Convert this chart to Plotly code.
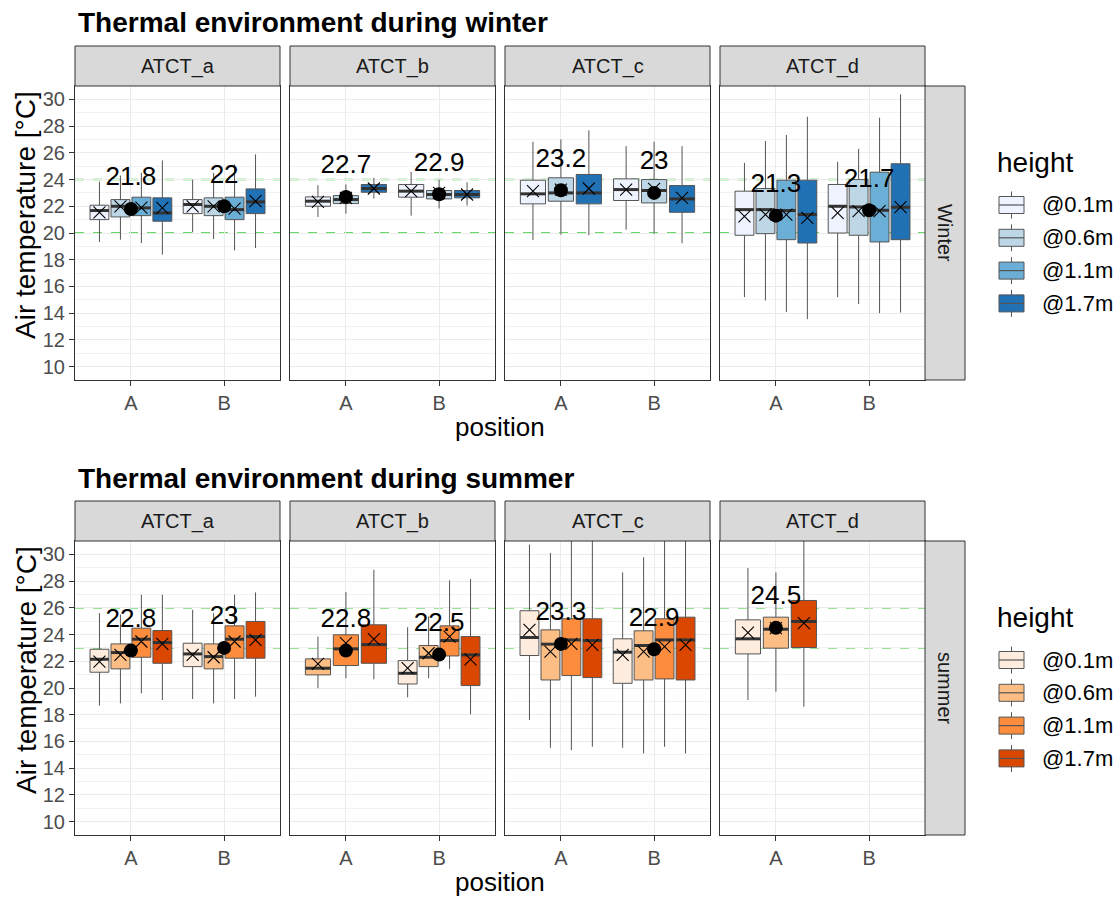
import plotly.graph_objects as go

# ---------------- data ----------------
FACETS = ["ATCT_a", "ATCT_b", "ATCT_c", "ATCT_d"]
POSITIONS = ["A", "B"]
HEIGHTS = ["@0.1m", "@0.6m", "@1.1m", "@1.7m"]
Y_TICKS = [10, 12, 14, 16, 18, 20, 22, 24, 26, 28, 30]

BLUES = ["#EFF3FF", "#BDD7E7", "#6BAED6", "#2171B5"]
ORANGES = ["#FEEDDE", "#FDBE85", "#FD8D3C", "#D94701"]

# winter boxes
w_facet = ["ATCT_a"] * 8 + ["ATCT_b"] * 6 + ["ATCT_c"] * 6 + ["ATCT_d"] * 8
w_pos = ["A", "A", "A", "A", "B", "B", "B", "B",
         "A", "A", "A", "B", "B", "B",
         "A", "A", "A", "B", "B", "B",
         "A", "A", "A", "A", "B", "B", "B", "B"]
w_height = ["@0.1m", "@0.6m", "@1.1m", "@1.7m", "@0.1m", "@0.6m", "@1.1m", "@1.7m",
            "@0.1m", "@0.6m", "@1.7m", "@0.1m", "@0.6m", "@1.7m",
            "@0.1m", "@0.6m", "@1.7m", "@0.1m", "@0.6m", "@1.7m",
            "@0.1m", "@0.6m", "@1.1m", "@1.7m", "@0.1m", "@0.6m", "@1.1m", "@1.7m"]
w_low = [19.33, 19.5, 19.25, 18.38, 20.05, 19.55, 18.7, 18.88,
         21.2, 21.45, 22.58, 21.3, 21.83, 22.05,
         19.48, 19.88, 19.83, 20.25, 19.93, 19.23,
         15.2, 14.95, 14.08, 13.55, 15.2, 14.68, 14.0, 14.05]
w_q1 = [21.0, 21.2, 21.3, 20.88, 21.45, 21.3, 21.0, 21.45,
        22.0, 22.2, 23.05, 22.68, 22.55, 22.63,
        22.18, 22.38, 22.18, 22.43, 22.25, 21.55,
        19.83, 19.95, 19.5, 19.25, 20.0, 19.83, 19.33, 19.5]
w_med = [21.68, 22.0, 21.88, 21.5, 22.13, 22.0, 21.75, 22.33,
         22.38, 22.5, 23.33, 23.13, 22.88, 22.88,
         22.93, 23.0, 23.0, 23.25, 23.18, 22.55,
         21.75, 21.75, 21.68, 21.38, 22.0, 21.95, 21.7, 21.93]
w_q3 = [22.08, 22.5, 22.68, 22.63, 22.5, 22.63, 22.68, 23.3,
        22.7, 22.8, 23.63, 23.63, 23.18, 23.18,
        23.95, 24.13, 24.38, 24.05, 24.0, 23.55,
        23.13, 23.33, 23.95, 23.95, 23.63, 24.0, 24.55, 25.18]
w_high = [23.83, 24.3, 24.5, 25.43, 24.0, 24.5, 25.13, 25.88,
          23.58, 23.63, 24.13, 24.58, 24.0, 23.8,
          26.83, 27.0, 27.68, 26.5, 26.83, 26.5,
          25.25, 26.88, 27.33, 28.7, 25.33, 26.3, 28.63, 30.38]
w_mean = [21.55, 22.0, 21.9, 21.88, 22.0, 22.0, 21.83, 22.38,
          22.33, 22.63, 23.33, 23.13, 23.0, 22.88,
          23.13, 23.25, 23.33, 23.25, 23.3, 22.63,
          21.25, 21.38, 21.38, 21.13, 21.5, 21.63, 21.63, 21.93]
# winter position means (labels)
w_pm_facet = ["ATCT_a", "ATCT_a", "ATCT_b", "ATCT_b", "ATCT_c", "ATCT_c", "ATCT_d", "ATCT_d"]
w_pm_pos = ["A", "B", "A", "B", "A", "B", "A", "B"]
w_pm_val = [21.8, 22, 22.7, 22.9, 23.2, 23, 21.3, 21.7]
w_limits = [20, 24]

# summer boxes
s_facet = ["ATCT_a"] * 8 + ["ATCT_b"] * 7 + ["ATCT_c"] * 8 + ["ATCT_d"] * 3
s_pos = ["A", "A", "A", "A", "B", "B", "B", "B",
         "A", "A", "A", "B", "B", "B", "B",
         "A", "A", "A", "A", "B", "B", "B", "B",
         "A", "A", "A"]
s_height = ["@0.1m", "@0.6m", "@1.1m", "@1.7m", "@0.1m", "@0.6m", "@1.1m", "@1.7m",
            "@0.6m", "@1.1m", "@1.7m", "@0.1m", "@0.6m", "@1.1m", "@1.7m",
            "@0.1m", "@0.6m", "@1.1m", "@1.7m", "@0.1m", "@0.6m", "@1.1m", "@1.7m",
            "@0.1m", "@0.6m", "@1.7m"]
s_low = [18.68, 18.85, 19.6, 19.1, 19.18, 18.85, 19.18, 19.35,
         19.98, 20.73, 20.65, 19.3, 20.73, 21.43, 18.03,
         17.6, 15.53, 15.35, 15.6, 15.53, 15.1, 15.6, 15.1,
         19.1, 19.73, 18.6]
s_q1 = [21.18, 21.43, 22.3, 21.85, 21.6, 21.43, 22.23, 22.23,
        20.98, 21.68, 21.85, 20.3, 21.6, 22.4, 20.18,
        22.43, 20.6, 20.93, 20.78, 20.35, 20.6, 20.68, 20.6,
        22.55, 22.98, 23.03]
s_med = [22.15, 22.65, 23.65, 23.4, 22.55, 22.35, 23.65, 23.85,
         21.48, 22.93, 23.25, 21.1, 22.3, 23.55, 22.48,
         23.78, 23.28, 23.6, 23.55, 22.68, 23.18, 23.6, 23.6,
         23.68, 24.4, 24.98]
s_q3 = [22.9, 23.3, 24.48, 24.3, 23.35, 23.3, 24.65, 24.98,
        22.18, 23.98, 24.73, 22.05, 23.18, 24.65, 23.85,
        25.78, 24.35, 25.18, 25.18, 23.68, 24.28, 25.18, 25.3,
        25.1, 25.3, 26.55]
s_high = [25.6, 25.5, 26.98, 26.98, 25.85, 25.6, 26.98, 27.15,
          23.85, 27.18, 28.85, 24.55, 25.35, 28.05, 28.15,
          30.73, 30.1, 31.6, 31.6, 28.65, 29.78, 31.6, 31.6,
          28.98, 28.65, 31.6]
s_mean = [21.98, 22.48, 23.48, 23.3, 22.48, 22.3, 23.48, 23.6,
          21.8, 23.35, 23.65, 21.48, 22.6, 23.85, 22.15,
          24.35, 22.73, 23.3, 23.23, 22.48, 22.73, 23.1, 23.23,
          24.15, 24.48, 24.85]
s_pm_facet = ["ATCT_a", "ATCT_a", "ATCT_b", "ATCT_b", "ATCT_c", "ATCT_c", "ATCT_d"]
s_pm_pos = ["A", "B", "A", "B", "A", "B", "A"]
s_pm_val = [22.8, 23, 22.8, 22.5, 23.3, 22.9, 24.5]
s_limits = [23, 26]

# ---------------- layout geometry (screen pixels) ----------------
W, H = 1120, 898
FONT = "Liberation Sans, Arial, sans-serif"
PANEL_X = [(75, 280), (290, 495), (505, 710), (720, 925)]
ROW_Y = [(86, 380), (541, 835)]
STRIP_H = 40
RSTRIP = (925, 965)
DODGE = 0.9
LABEL_NUDGE = 2.25
BOX_LINE = "#555555"
DARK = "#333333"


def px(x):
    return x / W


def py(y):
    return 1 - y / H


seasons = [
    dict(name="winter", strip="Winter", pal=BLUES, facet=w_facet, pos=w_pos, height=w_height,
         low=w_low, q1=w_q1, med=w_med, q3=w_q3, high=w_high, mean=w_mean,
         pmf=w_pm_facet, pmp=w_pm_pos, pmv=w_pm_val, limits=w_limits),
    dict(name="summer", strip="summer", pal=ORANGES, facet=s_facet, pos=s_pos, height=s_height,
         low=s_low, q1=s_q1, med=s_med, q3=s_q3, high=s_high, mean=s_mean,
         pmf=s_pm_facet, pmp=s_pm_pos, pmv=s_pm_val, limits=s_limits),
]

fig = go.Figure()
shapes = []
annotations = []
layout_axes = {}

for r, S in enumerate(seasons):
    y0p, y1p = ROW_Y[r]
    for c, fac in enumerate(FACETS):
        idx = r * 4 + c + 1
        xid = "x" if idx == 1 else f"x{idx}"
        yid = "y" if idx == 1 else f"y{idx}"
        x0p, x1p = PANEL_X[c]
        layout_axes["xaxis" if idx == 1 else f"xaxis{idx}"] = dict(
            domain=[px(x0p), px(x1p)], anchor=yid, range=[0.4, 2.6],
            tickmode="array", tickvals=[1, 2], ticktext=POSITIONS,
            showgrid=True, gridcolor="#EBEBEB", gridwidth=1, zeroline=False,
            showline=True, linecolor=DARK, linewidth=1, mirror=True,
            ticks="outside", ticklen=5, tickcolor=DARK, tickwidth=1,
            tickfont=dict(size=20, color="#4D4D4D", family=FONT), fixedrange=True)
        layout_axes["yaxis" if idx == 1 else f"yaxis{idx}"] = dict(
            domain=[py(y1p), py(y0p)], anchor=xid, range=[9, 31],
            tickmode="linear", tick0=Y_TICKS[0], dtick=Y_TICKS[1] - Y_TICKS[0],
            showticklabels=(c == 0), ticks="outside" if c == 0 else "",
            ticklen=5, tickcolor=DARK, tickwidth=1,
            tickfont=dict(size=20, color="#4D4D4D", family=FONT),
            showgrid=True, gridcolor="#EBEBEB", gridwidth=1, zeroline=False,
            minor=dict(dtick=1, showgrid=True, gridcolor="#F2F2F2", gridwidth=0.7),
            showline=True, linecolor=DARK, linewidth=1, mirror=True, fixedrange=True)

        # reference lines
        for lim in S["limits"]:
            shapes.append(dict(type="line", xref="paper", yref=yid,
                               x0=px(x0p), x1=px(x1p), y0=lim, y1=lim, layer="below",
                               line=dict(color="#33CC33", width=1.4, dash="dash")))

        # boxes
        med_x, med_y, mx, my = [], [], [], []
        for p_i, pos in enumerate(POSITIONS):
            rows = [k for k in range(len(S["facet"]))
                    if S["facet"][k] == fac and S["pos"][k] == pos]
            rows.sort(key=lambda k: HEIGHTS.index(S["height"][k]))
            n = len(rows)
            for j, k in enumerate(rows):
                slot = DODGE / n
                xc = (p_i + 1) + (j - (n - 1) / 2) * slot
                bw = slot * 0.9
                col = S["pal"][HEIGHTS.index(S["height"][k])]
                fig.add_trace(go.Box(
                    x=[xc], q1=[S["q1"][k]], median=[S["med"][k]], q3=[S["q3"][k]],
                    lowerfence=[S["low"][k]], upperfence=[S["high"][k]],
                    width=bw, fillcolor=col, whiskerwidth=0, boxpoints=False,
                    line=dict(color=BOX_LINE, width=1), xaxis=xid, yaxis=yid,
                    showlegend=False, hoverinfo="skip"))
                med_x += [xc - bw / 2, xc + bw / 2, None]
                med_y += [S["med"][k], S["med"][k], None]
                mx.append(xc)
                my.append(S["mean"][k])
        fig.add_trace(go.Scatter(x=med_x, y=med_y, mode="lines", xaxis=xid, yaxis=yid,
                                 line=dict(color=DARK, width=3), showlegend=False,
                                 hoverinfo="skip"))
        fig.add_trace(go.Scatter(x=mx, y=my, mode="markers", xaxis=xid, yaxis=yid,
                                 marker=dict(symbol="x-thin", size=12,
                                             line=dict(color="black", width=1.1)),
                                 showlegend=False, hoverinfo="skip"))
        # position means
        pm = [(POSITIONS.index(S["pmp"][k]) + 1, S["pmv"][k])
              for k in range(len(S["pmf"])) if S["pmf"][k] == fac]
        if pm:
            fig.add_trace(go.Scatter(x=[a for a, _ in pm], y=[b for _, b in pm],
                                     mode="markers", xaxis=xid, yaxis=yid,
                                     marker=dict(symbol="circle", size=14, color="black"),
                                     showlegend=False, hoverinfo="skip"))
            fig.add_trace(go.Scatter(x=[a for a, _ in pm], y=[b + LABEL_NUDGE for _, b in pm],
                                     mode="text", text=[f"{b:g}" for _, b in pm],
                                     textposition="middle center", cliponaxis=False,
                                     textfont=dict(size=26, color="black", family=FONT),
                                     xaxis=xid, yaxis=yid, showlegend=False, hoverinfo="skip"))

        # top strip
        shapes.append(dict(type="rect", xref="paper", yref="paper",
                           x0=px(x0p), x1=px(x1p), y0=py(y0p), y1=py(y0p - STRIP_H),
                           fillcolor="#D9D9D9", line=dict(color=DARK, width=1), layer="above"))
        annotations.append(dict(xref="paper", yref="paper", x=px((x0p + x1p) / 2),
                                y=py(y0p - STRIP_H / 2), text=fac, showarrow=False,
                                xanchor="center", yanchor="middle",
                                font=dict(size=20, color="#1A1A1A", family=FONT)))

    # right strip
    shapes.append(dict(type="rect", xref="paper", yref="paper",
                       x0=px(RSTRIP[0]), x1=px(RSTRIP[1]), y0=py(y1p), y1=py(y0p),
                       fillcolor="#D9D9D9", line=dict(color=DARK, width=1), layer="above"))
    annotations.append(dict(xref="paper", yref="paper", x=px((RSTRIP[0] + RSTRIP[1]) / 2),
                            y=py((y0p + y1p) / 2), text=S["strip"], textangle=90,
                            showarrow=False, xanchor="center", yanchor="middle",
                            font=dict(size=20, color="#1A1A1A", family=FONT)))
    # title
    annotations.append(dict(xref="paper", yref="paper", x=px(76), y=py(y0p - STRIP_H - 23),
                            text=f"<b>Thermal environment during {S['name']}</b>",
                            showarrow=False, xanchor="left", yanchor="middle",
                            font=dict(size=28, color="black", family=FONT)))
    # axis titles
    annotations.append(dict(xref="paper", yref="paper", x=px(500), y=py(y1p + 47),
                            text="position", showarrow=False, xanchor="center",
                            yanchor="middle", font=dict(size=26, color="black", family=FONT)))
    annotations.append(dict(xref="paper", yref="paper", x=px(26), y=py((y0p + y1p) / 2 - 18),
                            text="Air temperature [°C]", textangle=-90, showarrow=False,
                            xanchor="center", yanchor="middle",
                            font=dict(size=28, color="black", family=FONT)))
    # legend (manual)
    title_y = y0p + 76
    annotations.append(dict(xref="paper", yref="paper", x=px(995), y=py(title_y),
                            text="height", showarrow=False, xanchor="left", yanchor="middle",
                            font=dict(size=28, color="black", family=FONT)))
    for j, hname in enumerate(HEIGHTS):
        cy = title_y + 43 + j * 32.8
        shapes.append(dict(type="line", xref="paper", yref="paper",
                           x0=px(1011.5), x1=px(1011.5), y0=py(cy - 13.5), y1=py(cy + 13.5),
                           line=dict(color=BOX_LINE, width=1)))
        shapes.append(dict(type="rect", xref="paper", yref="paper",
                           x0=px(999), x1=px(1024), y0=py(cy + 8.5), y1=py(cy - 8.5),
                           fillcolor=S["pal"][j], line=dict(color=BOX_LINE, width=1)))
        shapes.append(dict(type="line", xref="paper", yref="paper",
                           x0=px(999), x1=px(1024), y0=py(cy), y1=py(cy),
                           line=dict(color=BOX_LINE, width=1.2)))
        annotations.append(dict(xref="paper", yref="paper", x=px(1040), y=py(cy),
                                text=hname, showarrow=False, xanchor="left", yanchor="middle",
                                font=dict(size=22, color="black", family=FONT)))

fig.update_layout(
    width=W, height=H, margin=dict(l=0, r=0, t=0, b=0),
    paper_bgcolor="white", plot_bgcolor="white", boxmode="overlay",
    font=dict(family=FONT), shapes=shapes, annotations=annotations,
    showlegend=False, **layout_axes)

fig.write_html("out.html", config={"displayModeBar": False},
               post_script="document.body.style.margin='0';document.body.style.overflow='hidden';")
